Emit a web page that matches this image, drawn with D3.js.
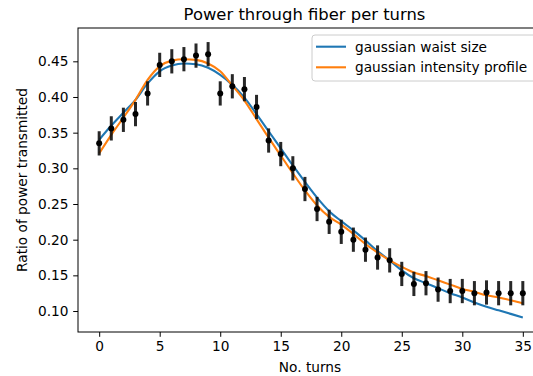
<!DOCTYPE html>
<html>
<head>
<meta charset="utf-8">
<script src="https://cdn.jsdelivr.net/npm/d3@7"></script>
<style>
  body { margin: 0; background: #fff; }
  text { font-family: "DejaVu Sans", sans-serif; fill: #000; }
</style>
</head>
<body>
<div id="chart"></div>
<script>
const turns = d3.range(0, 36);
const measured = [0.335, 0.356, 0.368, 0.376, 0.405, 0.445, 0.450, 0.453, 0.458, 0.460,
                  0.405, 0.415, 0.411, 0.386, 0.339, 0.320, 0.300, 0.271, 0.243, 0.225,
                  0.211, 0.200, 0.186, 0.175, 0.171, 0.152, 0.138, 0.139, 0.130, 0.128,
                  0.128, 0.125, 0.126, 0.125, 0.125, 0.125];
const errors = [0.017, 0.017, 0.017, 0.017, 0.017, 0.017, 0.017, 0.017, 0.017, 0.017,
                0.017, 0.017, 0.017, 0.017, 0.017, 0.017, 0.017, 0.017, 0.017, 0.017,
                0.017, 0.017, 0.017, 0.017, 0.017, 0.017, 0.017, 0.017, 0.017, 0.017,
                0.017, 0.017, 0.017, 0.017, 0.017, 0.017];
const waistFit = [0.340, 0.360, 0.378, 0.396, 0.419, 0.436, 0.444, 0.447, 0.446, 0.441,
                  0.431, 0.417, 0.399, 0.376, 0.352, 0.328, 0.304, 0.281, 0.259, 0.240,
                  0.226, 0.213, 0.199, 0.184, 0.171, 0.157, 0.146, 0.139, 0.132, 0.125,
                  0.119, 0.112, 0.106, 0.101, 0.096, 0.091];
const intensityFit = [0.321, 0.347, 0.371, 0.396, 0.424, 0.443, 0.451, 0.453, 0.452, 0.447,
                      0.436, 0.416, 0.395, 0.369, 0.343, 0.318, 0.293, 0.269, 0.248, 0.232,
                      0.221, 0.208, 0.194, 0.182, 0.171, 0.162, 0.154, 0.149, 0.143, 0.137,
                      0.131, 0.127, 0.122, 0.119, 0.115, 0.111];
const xTicks = [0, 5, 10, 15, 20, 25, 30, 35];
const yTicks = [0.10, 0.15, 0.20, 0.25, 0.30, 0.35, 0.40, 0.45];
const seriesNames = ["gaussian waist size", "gaussian intensity profile"];
const seriesColors = ["#1f77b4", "#ff7f0e"];

const width = 533;
const height = 376;
const plotL = 78, plotR = 544, plotT = 28, plotB = 332;

const svg = d3.select("#chart")
    .append("svg")
    .attr("width", width)
    .attr("height", height);

const x = d3.scaleLinear().domain([-1.75, 36.75]).range([plotL, plotR]);
const y = d3.scaleLinear().domain([0.0706, 0.4967]).range([plotB, plotT]);

// curves
const line = d3.line()
    .x((d, i) => x(turns[i]))
    .y(d => y(d))
    .curve(d3.curveMonotoneX);

[waistFit, intensityFit].forEach((s, k) => {
    svg.append("path")
        .datum(s)
        .attr("fill", "none")
        .attr("stroke", seriesColors[k])
        .attr("stroke-width", 2.1)
        .attr("d", line);
});

// error bars + points
const pts = svg.append("g");
pts.selectAll("line")
    .data(turns)
    .join("line")
    .attr("x1", i => x(i))
    .attr("x2", i => x(i))
    .attr("y1", i => y(measured[i] - errors[i]))
    .attr("y2", i => y(measured[i] + errors[i]))
    .attr("stroke", "#111")
    .attr("stroke-opacity", 0.9)
    .attr("stroke-width", 3);
pts.selectAll("circle")
    .data(turns)
    .join("circle")
    .attr("cx", i => x(i))
    .attr("cy", i => y(measured[i]))
    .attr("r", 3)
    .attr("fill", "#000");

// axes
const xAxis = d3.axisBottom(x).tickValues(xTicks).tickSize(4.8).tickPadding(4.8);
const yAxis = d3.axisLeft(y).tickValues(yTicks).tickFormat(d3.format(".2f")).tickSize(4.8).tickPadding(4.8);

svg.append("g")
    .attr("transform", `translate(0, ${plotB})`)
    .call(xAxis)
    .call(g => g.select(".domain").remove())
    .selectAll("text").attr("font-size", 13.7).attr("fill", "#000");

svg.append("g")
    .attr("transform", `translate(${plotL}, 0)`)
    .call(yAxis)
    .call(g => g.select(".domain").remove())
    .selectAll("text").attr("font-size", 13.7).attr("fill", "#000");

// spines
svg.append("rect")
    .attr("x", plotL)
    .attr("y", plotT)
    .attr("width", plotR - plotL)
    .attr("height", plotB - plotT)
    .attr("fill", "none")
    .attr("stroke", "#000")
    .attr("stroke-width", 1);

// labels
svg.append("text")
    .attr("x", 304.5)
    .attr("y", 20)
    .attr("text-anchor", "middle")
    .attr("font-size", 16.4)
    .text("Power through fiber per turns");

svg.append("text")
    .attr("x", 310)
    .attr("y", 372)
    .attr("text-anchor", "middle")
    .attr("font-size", 13.7)
    .text("No. turns");

svg.append("text")
    .attr("transform", `translate(27, ${(plotT + plotB) / 2}) rotate(-90)`)
    .attr("text-anchor", "middle")
    .attr("font-size", 13.7)
    .text("Ratio of power transmitted");

// legend
const legend = svg.append("g").attr("transform", "translate(312, 35)");
legend.append("rect")
    .attr("width", 240)
    .attr("height", 46)
    .attr("rx", 3)
    .attr("fill", "#fff")
    .attr("fill-opacity", 0.8)
    .attr("stroke", "#ccc");
seriesNames.forEach((name, k) => {
    const ly = 11.7 + k * 20.6;
    legend.append("line")
        .attr("x1", 4).attr("x2", 34)
        .attr("y1", ly).attr("y2", ly)
        .attr("stroke", seriesColors[k])
        .attr("stroke-width", 2.1);
    legend.append("text")
        .attr("x", 43)
        .attr("y", ly + 5)
        .attr("font-size", 13.7)
        .text(name);
});
</script>
</body>
</html>
